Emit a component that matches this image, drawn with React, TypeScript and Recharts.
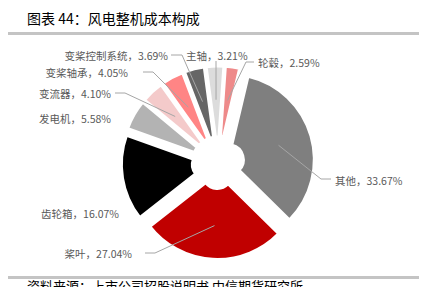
import React from 'react';
import { PieChart, Pie, Cell, Sector } from 'recharts';

// slices clockwise from the top
const names = ['轮毂', '其他', '桨叶', '齿轮箱', '发电机', '变流器', '变桨轴承', '变桨控制系统', '主轴'];
const shares = [2.59, 33.67, 27.04, 16.07, 5.58, 4.1, 4.05, 3.69, 3.21];
const colors = ['#EE8A8A', '#7F7F7F', '#C00000', '#000000', '#B3B3B3', '#F4CACA', '#FF8585', '#666666', '#DCDCDC'];

const data = names.map((name, i) => ({ name, value: shares[i] }));

const RAD = Math.PI / 180;
const EXPLODE = 11;
const LINE_R = 52;

// hand placed labels, like the excel original
const labelLayout: { x: number; y: number; anchor: 'start' | 'end'; line: number[][] }[] = [
  { x: 258, y: 62, anchor: 'start', line: [[246, 62], [254, 62]] },
  { x: 335, y: 180, anchor: 'start', line: [[321, 179], [331, 179]] },
  { x: 132, y: 253, anchor: 'end', line: [[155, 253], [145, 253]] },
  { x: 119, y: 213, anchor: 'end', line: [] },
  { x: 111, y: 118, anchor: 'end', line: [] },
  { x: 111, y: 93, anchor: 'end', line: [[125, 93], [115, 93]] },
  { x: 128, y: 72, anchor: 'end', line: [[153, 72], [143, 72]] },
  { x: 168, y: 55, anchor: 'end', line: [[182, 55], [171, 55]] },
  { x: 186, y: 55, anchor: 'start', line: [[216, 61]] },
];

const ExplodedSector = (props: any) => {
  const { cx, cy, midAngle } = props;
  const dx = EXPLODE * Math.cos(-midAngle * RAD);
  const dy = EXPLODE * Math.sin(-midAngle * RAD);
  return <Sector {...props} cx={cx + dx} cy={cy + dy} />;
};

const renderLabel = (p: any) => {
  const { cx, cy, midAngle, index } = p;
  const lay = labelLayout[index];
  const c = Math.cos(-midAngle * RAD);
  const s = Math.sin(-midAngle * RAD);
  const sx = cx + (EXPLODE + LINE_R) * c;
  const sy = cy + (EXPLODE + LINE_R) * s;
  const pts = lay.line.length ? [[sx, sy], ...lay.line] : [];
  return (
    <g key={`lbl-${index}`}>
      {pts.length > 0 && (
        <polyline
          points={pts.map((q) => q.join(',')).join(' ')}
          fill="none"
          stroke="#A6A6A6"
          strokeWidth={1}
        />
      )}
      <text
        x={lay.x}
        y={lay.y}
        textAnchor={lay.anchor}
        dominantBaseline="central"
        fontSize={10.5}
        fill="#595959"
      >
        {`${names[index]}，${shares[index].toFixed(2)}%`}
      </text>
    </g>
  );
};

export default function App() {
  return (
    <div
      style={{
        position: 'relative',
        width: 427,
        height: 295,
        margin: -8,
        overflow: 'hidden',
        background: '#fff',
        fontFamily: '"Noto Sans CJK SC", sans-serif',
      }}
    >
      <div style={{ position: 'absolute', left: 27, top: 8, fontSize: 14, lineHeight: '20px', color: '#000' }}>
        图表 44：风电整机成本构成
      </div>
      <div style={{ position: 'absolute', left: 0, top: 32, width: 420, height: 3, background: '#C4C4C4' }} />
      <div style={{ position: 'absolute', left: 0, top: 0 }}>
        <PieChart width={427} height={295} margin={{ top: 0, right: 0, bottom: 0, left: 0 }}>
          <Pie
            data={data}
            dataKey="value"
            nameKey="name"
            cx={218}
            cy={162.7}
            innerRadius={15}
            outerRadius={85.5}
            startAngle={86}
            endAngle={-274}
            stroke="#fff"
            strokeWidth={2.5}
            shape={ExplodedSector}
            label={renderLabel}
            labelLine={false}
            isAnimationActive={false}
          >
            {data.map((d, i) => (
              <Cell key={d.name} fill={colors[i]} />
            ))}
          </Pie>
        </PieChart>
      </div>
      <div style={{ position: 'absolute', left: 0, top: 276, width: 420, height: 3, background: '#C4C4C4' }} />
      <div style={{ position: 'absolute', left: 27, top: 279, fontSize: 13, lineHeight: '13px', color: '#000' }}>
        资料来源：上市公司招股说明书 中信期货研究所
      </div>
    </div>
  );
}
